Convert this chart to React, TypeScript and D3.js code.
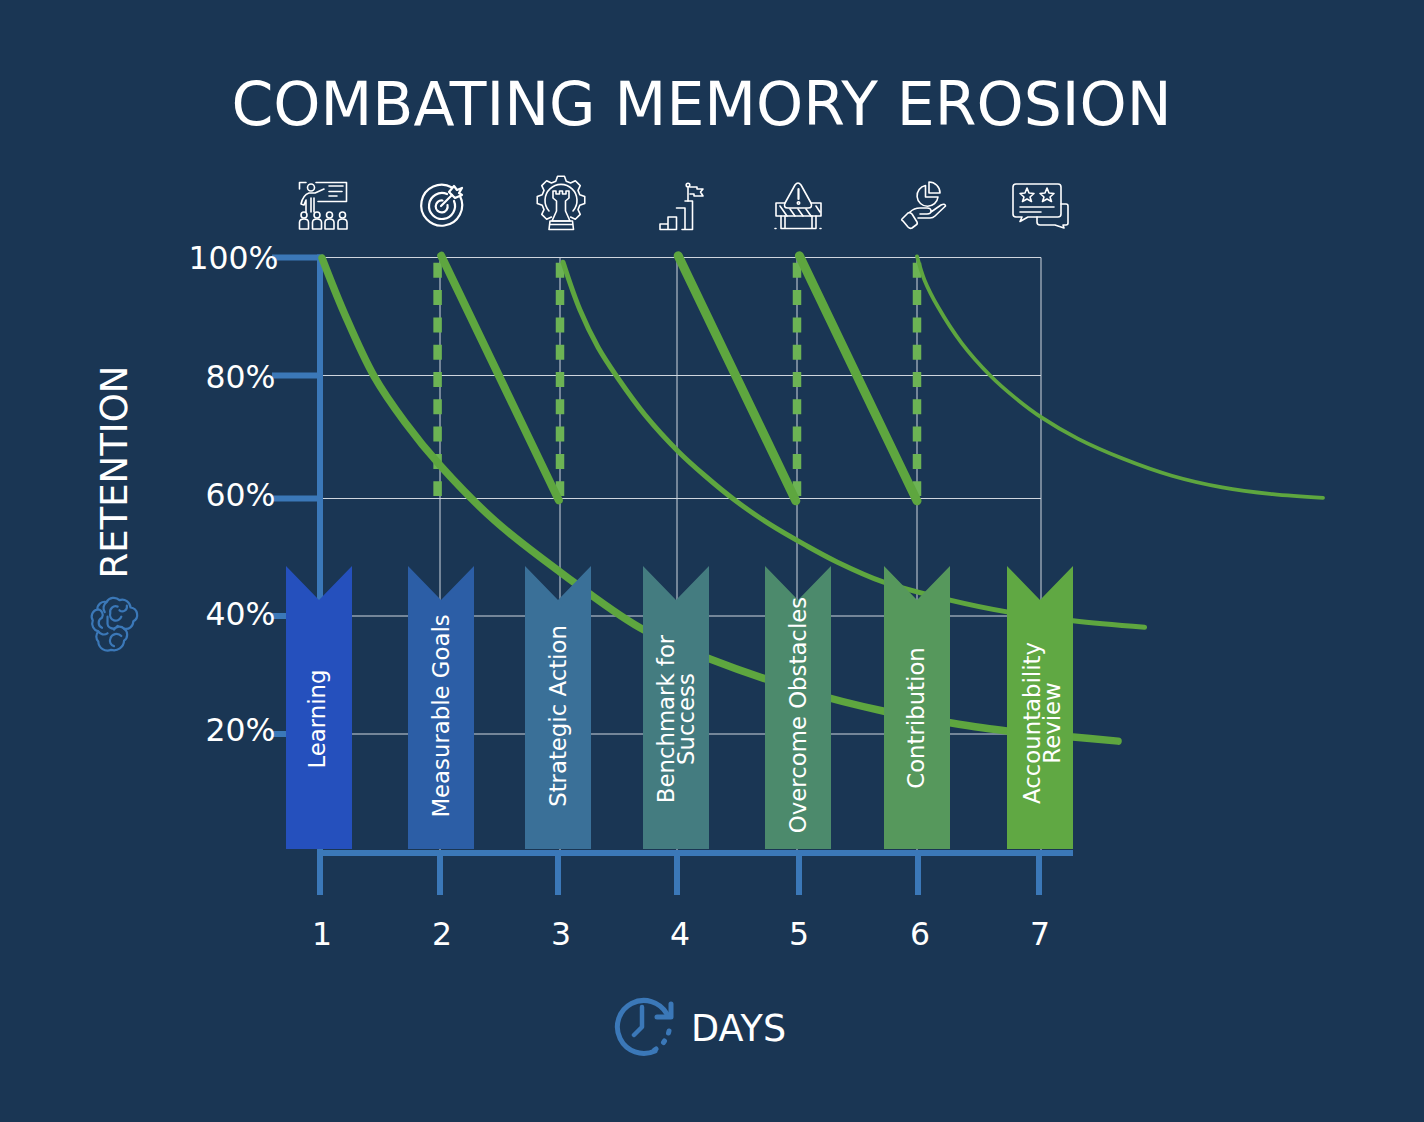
import * as d3 from 'd3';

const days = [1, 2, 3, 4, 5, 6, 7];
const retentionTicks = [100, 80, 60, 40, 20];
const stages = [
  ['Learning'],
  ['Measurable Goals'],
  ['Strategic Action'],
  ['Benchmark for', 'Success'],
  ['Overcome Obstacles'],
  ['Contribution'],
  ['Accountability', 'Review'],
];
const stageColors = ['#2550bd', '#2c5ea6', '#3a7098', '#447c80', '#4c8a6c', '#56985c', '#60a843'];

// [day, retention %]
const firstCurve = [[1.017, 99.9], [1.208, 90.3], [1.45, 79.9], [1.708, 72.4], [2, 65.4], [2.458, 56.2], [3, 47.5], [3.684, 38], [4.275, 32.7], [5.025, 27.5], [5.717, 23.9], [6.266, 21.9], [6.726, 20.5], [7.267, 19.5], [7.642, 18.8]];
const secondCurve = [[3.026, 99.2], [3.171, 91.1], [3.325, 84.8], [3.487, 79.8], [3.726, 73.6], [4.008, 67.7], [4.233, 63.7], [4.483, 59.7], [4.758, 55.8], [5.067, 52.1], [5.333, 49.2], [5.717, 45.8], [6.266, 42.7], [6.726, 40.7], [7.267, 39.2], [7.863, 38.1]];
const thirdCurve = [[6, 100.2], [6.06, 96.2], [6.17, 91.6], [6.36, 85.5], [6.59, 80], [6.79, 76.4], [7.01, 73.1], [7.31, 69.7], [7.68, 66.5], [8.09, 63.7], [8.51, 61.8], [8.93, 60.7], [9.35, 60.1]];
const drops = [
  [[2.01, 100.3], [2.99, 59.7]],
  [[4.01, 100.3], [4.99, 59.6]],
  [[5.02, 100.3], [6, 59.6]],
];
const reviewDays = [1.98, 3, 5, 6];
const reviewRange = [99.1, 60.4];
const dayLabelX = [322, 442, 561, 680, 799, 920, 1040];

const BG = '#1a3654';
const BLUE = '#3b78b8';
const GREEN = '#5ea63f';
const FONT = '"DejaVu Sans", sans-serif';

const x = d3.scaleLinear().domain([1, 2, 3, 4, 5, 6, 7, 10]).range([320, 440, 560, 677, 797, 917, 1041, 1401]);
const y = d3.scaleLinear().domain([0, 20, 40, 60, 80, 100]).range([853, 734, 616, 498.5, 375.5, 257.5]);
const axisX = d3.scaleLinear().domain([1, 2, 3, 4, 5, 6, 7]).range([320, 440, 558, 677, 799, 918, 1039]);
const bannerX = d3.scaleLinear().domain([1, 2, 3, 4, 5, 6, 7]).range([319, 441, 558, 676, 798, 917, 1040]);

const line = d3.line<number[]>().x(d => x(d[0])).y(d => y(d[1]));
const curve = d3.line<number[]>().x(d => x(d[0])).y(d => y(d[1])).curve(d3.curveCatmullRom.alpha(0.5));

const iconStyle = { fill: 'none', stroke: '#fff', strokeWidth: 1.6, strokeLinecap: 'round', strokeLinejoin: 'round' } as const;

function Audience({ cx }: { cx: number }) {
  return (
    <g transform={`translate(${cx},0)`}>
      <circle cx={0} cy={215} r={3} />
      <path d="M-4.5,229 V222.5 Q-4.5,219 0,219 Q4.5,219 4.5,222.5 V229 Z" />
    </g>
  );
}

// seven teeth round the top of the gear, open at the bottom
function gearPath(cx: number, cy: number) {
  const p = d3.path();
  const pt = (a: number, r: number) => [cx + r * Math.sin(a), cy - r * Math.cos(a)];
  d3.range(-3, 4).forEach((k, i) => {
    const a = (k * Math.PI) / 4;
    const w = 0.17;
    const pts = [pt(a - w * 1.6, 19.5), pt(a - w * 0.85, 24), pt(a + w * 0.85, 24), pt(a + w * 1.6, 19.5)];
    pts.forEach(([px, py], j) => (i === 0 && j === 0 ? p.moveTo(px, py) : p.lineTo(px, py)));
  });
  return p.toString();
}

function Icons() {
  return (
    <g {...iconStyle}>
      {/* presenter */}
      <path d="M316,182.5 H346.5 V201.5 H318" />
      <path d="M299.5,189 V182.5 H306" />
      <path d="M329,186 H343 M329,191.5 H342 M329,196 H337" />
      <circle cx={311} cy={187.5} r={3.5} />
      <path d="M324,189 L315,193 H309 Q303,195 301,204 L304,205 L306,200 V212 M311,198 V212 M314,198 V212" />
      <Audience cx={304} />
      <Audience cx={317} />
      <Audience cx={329.5} />
      <Audience cx={342.5} />

      {/* target */}
      <g strokeWidth={2.2}>
        <path d="M452,187.5 A20.5,20.5 0 1 0 460,196" />
        <path d="M447,194 A13,13 0 1 0 454,201" />
        <path d="M442.5,200.5 A6,6 0 1 0 447.5,205" />
        <path d="M441,206 L452,195" />
        <path d="M449,192 L454,186 L457,190 L462,188 L459,193 L462,195 L455,198 Z" />
      </g>

      {/* rook in a gear */}
      <path d={gearPath(561, 200)} />
      <path d="M549,211 A16,16 0 1 1 573,211" />
      <path d="M553,191 H556 V194 H559.5 V191 H562.5 V194 H566 V191 H569 V198 L565.5,201 V211 L570,221 H552 L556.5,211 V201 L553,198 Z" />
      <path d="M549.5,224.5 H572.5 M549,229.5 H573.5 L572.5,221 H550 Z" />

      {/* stairs and flag */}
      <path d="M660,229.5 V224 H668 V229.5 Z M668,229.5 V217 H676.5 V229.5 M676.5,208 H685 V229.5 M685,201 H692.5 V229.5 H682 M668,229.5 H676.5" />
      <path d="M688,201 V187" />
      <circle cx={688} cy={185} r={1.8} />
      <path d="M690,187 H697 V189 H703 L700.5,192 L703,196 H694 V194 H690" />

      {/* roadblock */}
      <path d="M785,203 L795,185 Q798,181 801,185 L811,203 Q813,208 808,208 H788 Q783,208 785,203 Z" />
      <path d="M798.5,189 V199" strokeWidth={2.2} />
      <circle cx={798.5} cy={203} r={1.2} />
      <path d="M785,203 H776 V216 H821 V203 H811" />
      <path d="M780,206 L787,216 M790,209 L795,216 M798,209 L803,216 M806,209 L811,216 M816,206 L820,212" />
      <path d="M781,216 V228 M785,216 V228 M812,216 V228 M816,216 V228 M781,228.5 H816" />
      <path d="M775,228.5 H776 M820,228.5 H821" />

      {/* pie on a hand */}
      <path d="M925.5,185.5 A10.5,10.5 0 1 0 938,197 H925.5 Z" />
      <path d="M929,182 A11,11 0 0 1 940,193 H929 Z" />
      <path d="M902,219 L908,213 Q910,212 912,214 L917,222 Q918,224 916,225 L912,228 Q910,229 908,227 L903,221 Q901,220 902,219 Z" />
      <path d="M910,212 Q914,208 920,208 H927 Q931,208 931,211 Q931,214 927,214 H920 M931,212 L941,205 Q945,203 945.5,206 L935,216 Q933,218 930,218 H918" />

      {/* rating chat */}
      <path d="M1016,184 H1058 Q1061,184 1061,187 V214 Q1061,217 1058,217 H1028 L1020,221.5 L1022,217 H1016 Q1013,217 1013,214 V187 Q1013,184 1016,184 Z" />
      <path d="M1061,204 H1066 Q1068,204 1068,206 V223 Q1068,225 1066,225 H1063 L1064,228 L1055,225 H1040 Q1037,225 1037,222 V217" />
      <path d="M1027,188 L1029,193 L1034,193.5 L1030,197 L1031.5,201.5 L1027,199 L1022.5,201.5 L1024,197 L1020,193.5 L1025,193 Z" />
      <path d="M1047,188 L1049,193 L1054,193.5 L1050,197 L1051.5,201.5 L1047,199 L1042.5,201.5 L1044,197 L1040,193.5 L1045,193 Z" />
      <path d="M1020,207 H1054 M1020,212 H1041" />
    </g>
  );
}

function BrainIcon() {
  return (
    <g transform="translate(113.5,625) scale(0.92) translate(-113.5,-625)" fill="none" stroke={BLUE} strokeWidth={2.4} strokeLinecap="round" strokeLinejoin="round">
      <path d="M96,608 A8,8 0 0 1 106,600 A9,9 0 0 1 120,598 A9,9 0 0 1 132,606 A8,8 0 0 1 135,621 A8,8 0 0 1 125,629 A8,8 0 0 1 125,642 A11,11 0 0 1 111,652 A10,10 0 0 1 97,643 A8,8 0 0 1 97,632 A9,9 0 0 1 91,620 A8,8 0 0 1 96,608 Z" />
      <path d="M106,600 A8,8 0 0 0 104,611 M118,605 A6,6 0 0 0 110,612 A6,6 0 0 0 122,616 M128,604 A5,5 0 0 1 120,609" />
      <path d="M96,608 A6,6 0 0 1 101,617 A6,6 0 0 0 101,628 M107,616 V622 A6,6 0 0 0 118,626 M125,629 A7,7 0 0 0 114,630" />
      <path d="M97,632 A7,7 0 0 0 107,634 M122,637 A7,7 0 0 0 110,640 A6,6 0 0 0 114,648" />
    </g>
  );
}

function ClockIcon() {
  return (
    <g fill="none" stroke={BLUE} strokeLinecap="round" strokeLinejoin="round">
      <path d="M655,1051 A26.5,26.5 0 1 1 667,1014" strokeWidth={5} />
      <path d="M671,1004 V1017 H657" strokeWidth={5} />
      <path d="M642,1007 V1027 L634,1035" strokeWidth={4.5} />
      <path d="M654.5,1050 L656,1049 M663.5,1042.5 L664.5,1041 M668.5,1033 L669,1031" strokeWidth={5} />
    </g>
  );
}

// baseline nudges for the axis labels and the banner captions
const tickBaseline: Record<number, number> = { 100: 269, 80: 388, 60: 506, 40: 625, 20: 741 };
const captionMidY = [719, 716, 716, 719, 715, 718, 723];
const captionShift = [-2, 0, 0, 1.5, 0, -1, 3.5];

export default function App() {
  return (
    <svg width={1424} height={1122} style={{ position: 'absolute', left: 0, top: 0, background: BG, fontFamily: FONT }}>
      <text x={701.5} y={124.5} textAnchor="middle" fontSize={60} fill="#fff">COMBATING MEMORY EROSION</text>
      <Icons />

      {/* grid */}
      <g stroke="#cfd6de" strokeWidth={1}>
        {retentionTicks.map(t => <line key={t} x1={x(1)} x2={x(7)} y1={y(t)} y2={y(t)} />)}
        {days.map(d => <line key={d} x1={x(d)} x2={x(d)} y1={y(100)} y2={y(0)} />)}
      </g>

      {/* axes */}
      <g stroke={BLUE} strokeWidth={6}>
        <line x1={x(1)} x2={x(1)} y1={y(100) - 3} y2={853} />
        {retentionTicks.map(t => <line key={t} x1={272} x2={x(1)} y1={y(t)} y2={y(t)} />)}
      </g>
      <g fontSize={31.5} fill="#fff">
        {retentionTicks.map(t => (
          <text key={t} x={t === 100 ? 278.5 : 275.5} y={tickBaseline[t]} textAnchor="end">{t}%</text>
        ))}
      </g>

      {/* review markers */}
      <g stroke="#6cb354" strokeWidth={8.5} strokeDasharray="15 12.3">
        {reviewDays.map(d => <line key={d} x1={x(d)} x2={x(d)} y1={y(reviewRange[0])} y2={y(reviewRange[1])} />)}
      </g>

      {/* retention curves */}
      <g fill="none" stroke={GREEN} strokeLinecap="round">
        {drops.map((d, i) => <path key={i} d={line(d)!} strokeWidth={[8, 9, 9][i]} />)}
        <path d={curve(firstCurve)!} strokeWidth={7.5} />
        <path d={curve(secondCurve)!} strokeWidth={5} />
        <path d={curve(thirdCurve)!} strokeWidth={3.8} />
      </g>

      {/* stage banners */}
      {days.map((d, i) => {
        const cx = bannerX(d);
        const notch = d3.path();
        notch.moveTo(cx - 33, 566);
        notch.lineTo(cx, 600);
        notch.lineTo(cx + 33, 566);
        notch.lineTo(cx + 33, 849);
        notch.lineTo(cx - 33, 849);
        notch.closePath();
        const lines = stages[i];
        return (
          <g key={d}>
            <path d={notch.toString()} fill={stageColors[i]} />
            <text
              transform={`translate(${cx + 7.5 + captionShift[i] - (lines.length - 1) * 11},${captionMidY[i]}) rotate(-90)`}
              textAnchor="middle"
              fontSize={22.8}
              fill="#fff"
            >
              {lines.map((l, j) => <tspan key={l} x={0} dy={j === 0 ? 0 : 20}>{l}</tspan>)}
            </text>
          </g>
        );
      })}

      {/* day axis */}
      <g stroke={BLUE} strokeWidth={6}>
        <line x1={318} x2={1073} y1={853} y2={853} />
        {days.map(d => <line key={d} x1={axisX(d)} x2={axisX(d)} y1={853} y2={895} />)}
      </g>
      <g fontSize={31.5} fill="#fff" textAnchor="middle">
        {days.map((d, i) => <text key={d} x={dayLabelX[i]} y={945}>{d}</text>)}
      </g>

      {/* axis titles */}
      <text transform="translate(127,472) rotate(-90)" textAnchor="middle" fontSize={37} fill="#fff">RETENTION</text>
      <BrainIcon />
      <ClockIcon />
      <text x={691} y={1041} fontSize={36.5} fill="#fff">DAYS</text>
    </svg>
  );
}
